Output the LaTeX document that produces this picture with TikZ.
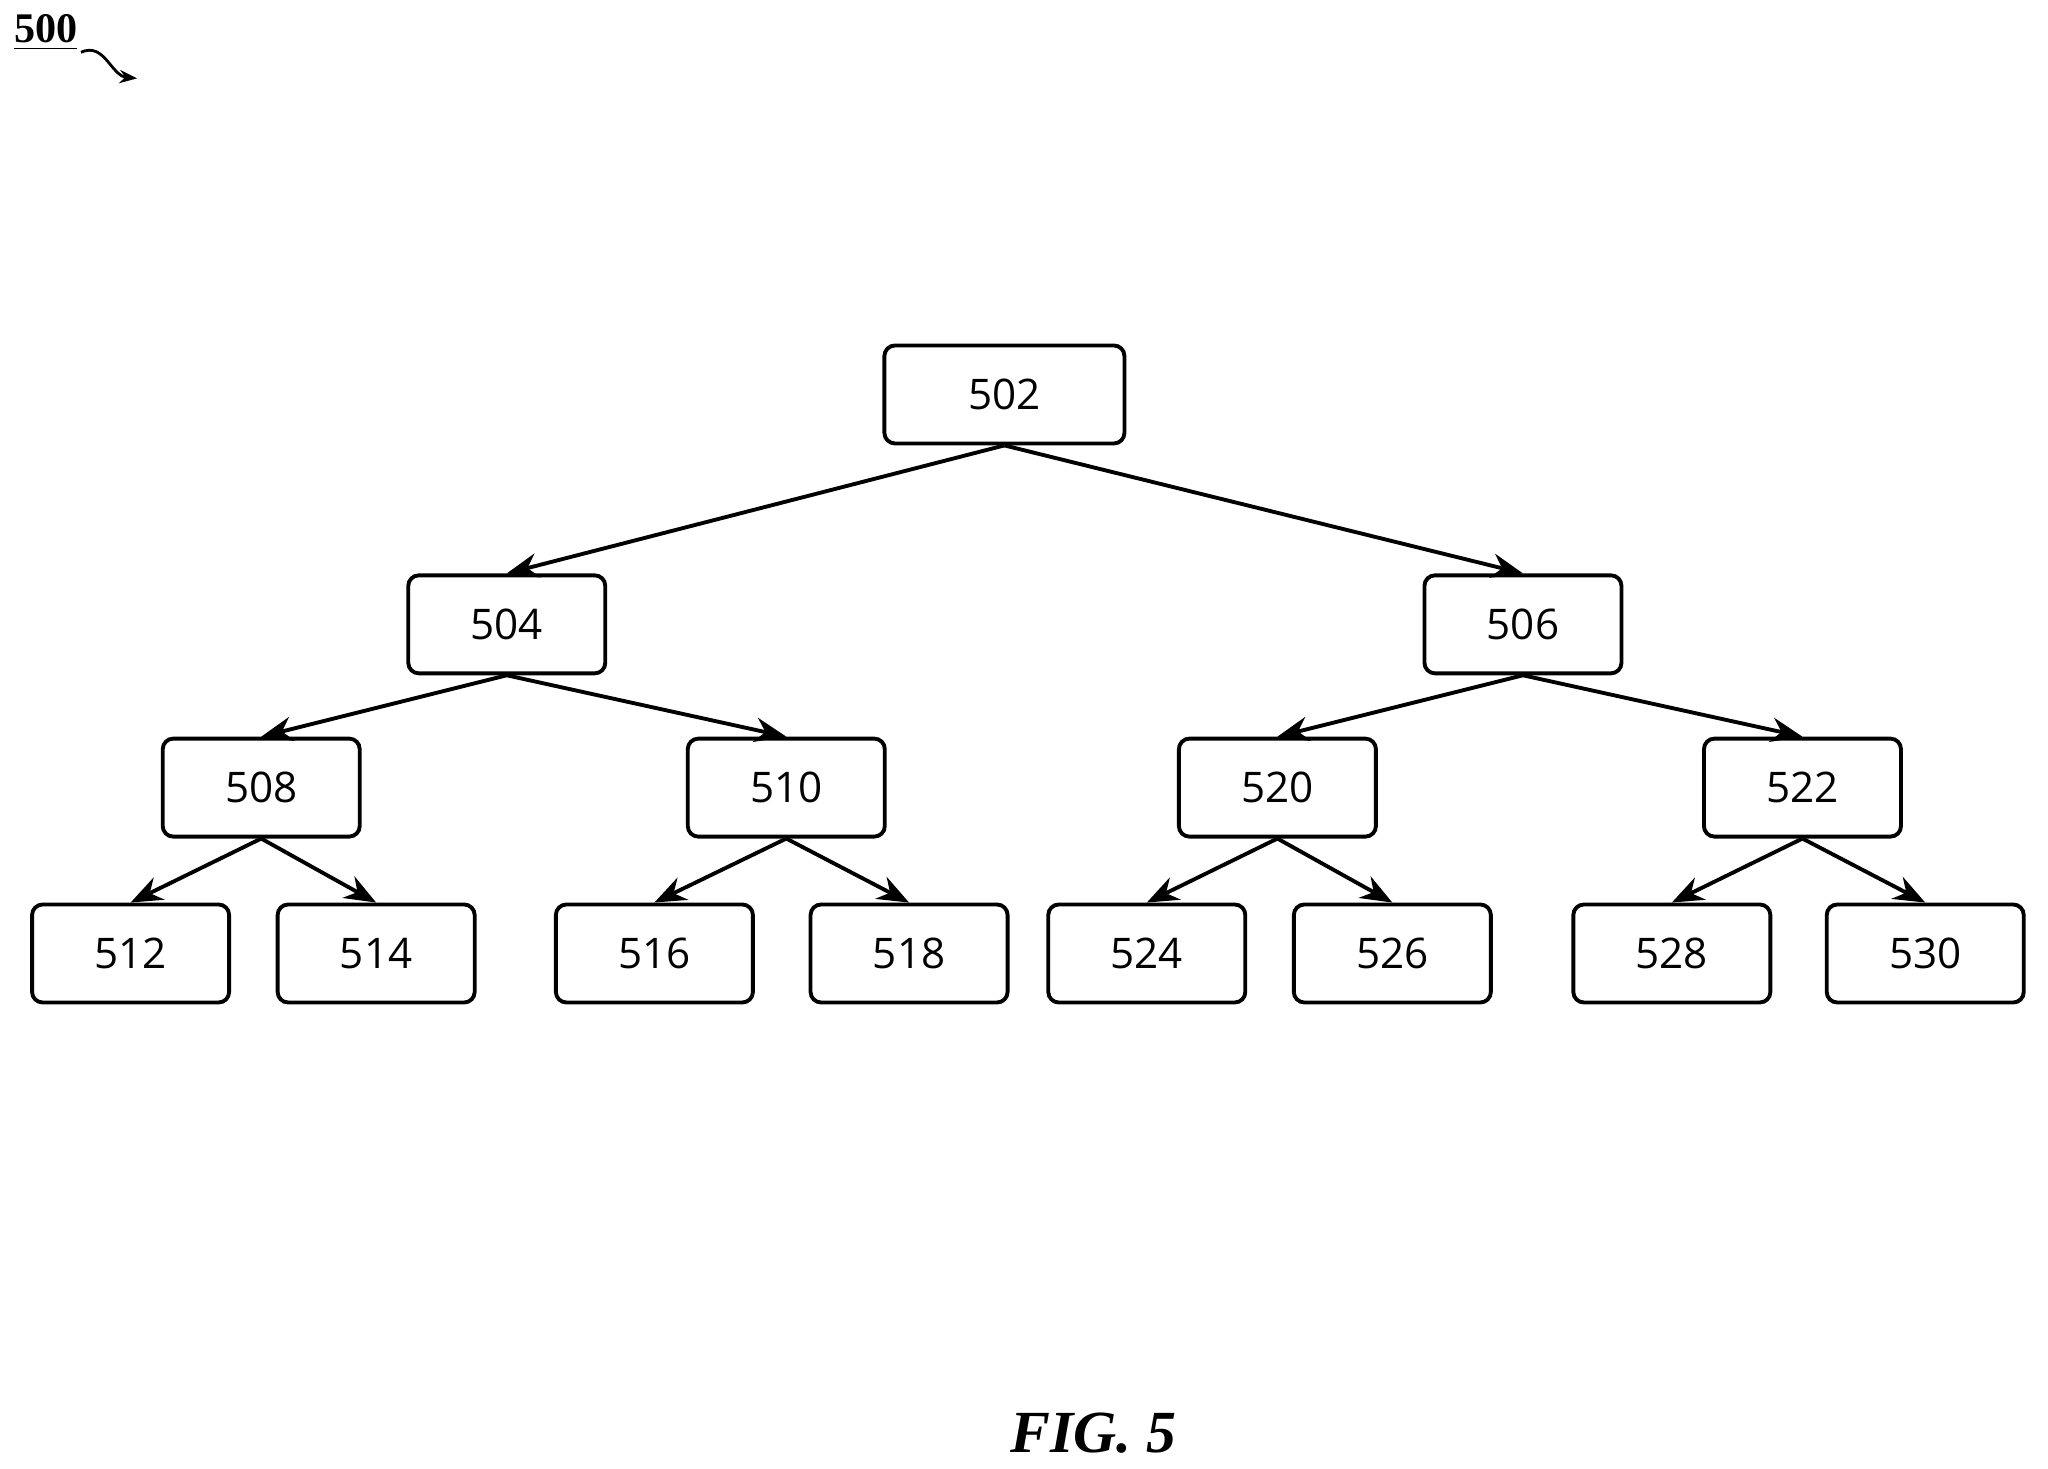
\documentclass[tikz,border=0pt]{standalone}
\usepackage{fontspec}
\setmainfont{Liberation Serif}
\newfontfamily\boxfont{Open Sans}
\usetikzlibrary{arrows.meta}

\begin{document}
\begin{tikzpicture}[x=0.1306mm,y=-0.1306mm,
  box/.style={draw,line width=1.1pt,rounded corners=3pt,minimum width=19.7mm,minimum height=9.8mm,inner sep=0pt,font=\boxfont\fontsize{12}{14}\selectfont},
  link/.style={line width=1.1pt,-{Stealth[length=9pt,width=7pt]}}]
  \useasboundingbox (0,0) rectangle (1568,1124);

  % labels
  \node[font=\bfseries\fontsize{12}{14}\selectfont] (fignum) at (35,25) {\underline{500}};
  \coordinate (figtip) at (105,60);
  \draw[line width=0.8pt,-{Stealth[length=5pt]}] (62,40) .. controls (80,32) and (85,58) .. (figtip);
  \node[font=\bfseries\itshape\fontsize{17}{20}\selectfont] (cap) at (837,1097) {FIG. 5};

  % tree
  \node[box,minimum width=24mm] (n502) at (769,302) {502};
  \node[box] (n504) at (388,478) {504};
  \node[box] (n506) at (1166,478) {506};
  \node[box] (n508) at (200,603) {508};
  \node[box] (n510) at (602,603) {510};
  \node[box] (n520) at (978,603) {520};
  \node[box] (n522) at (1380,603) {522};
  \node[box] (n512) at (100,730) {512};
  \node[box] (n514) at (288,730) {514};
  \node[box] (n516) at (501,730) {516};
  \node[box] (n518) at (696,730) {518};
  \node[box] (n524) at (878,730) {524};
  \node[box] (n526) at (1066,730) {526};
  \node[box] (n528) at (1280,730) {528};
  \node[box] (n530) at (1474,730) {530};

  \foreach \p/\c in {502/504,502/506,504/508,504/510,506/520,506/522,
                     508/512,508/514,510/516,510/518,520/524,520/526,522/528,522/530}
    \draw[link] (n\p.south) -- (n\c.north);
\end{tikzpicture}
\end{document}
